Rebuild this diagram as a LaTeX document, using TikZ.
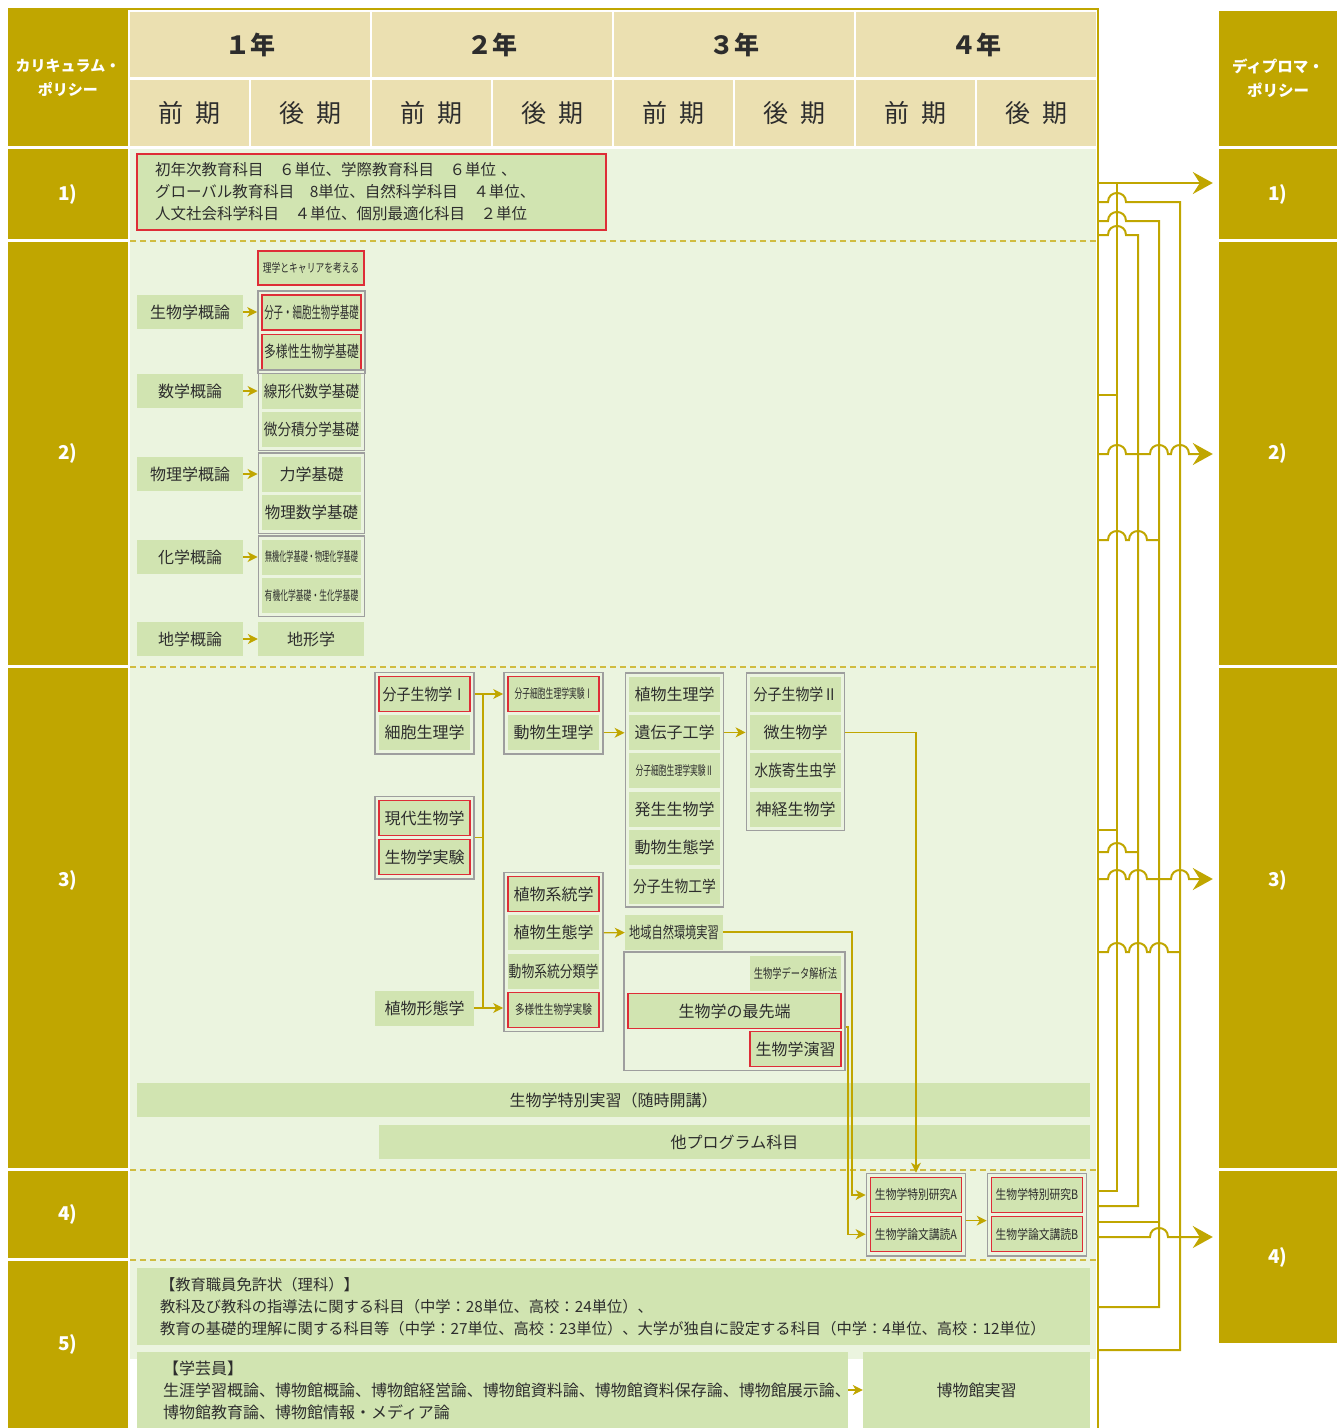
\documentclass[tikz,border=0pt]{standalone}
\usepackage{fontspec}
\usepackage{graphicx}
\setmainfont{Noto Sans CJK JP}
\usetikzlibrary{arrows.meta,positioning,fit,calc}
\definecolor{cpgold}{RGB}{192,166,0}
\definecolor{hdrtan}{RGB}{235,224,177}
\definecolor{bglight}{RGB}{235,244,223}
\definecolor{boxgreen}{RGB}{209,228,177}
\definecolor{reqred}{RGB}{222,45,55}
\definecolor{grpgray}{RGB}{158,158,158}
\definecolor{ink}{RGB}{45,45,45}
\newcommand{\sq}[2]{\scalebox{#1}[1]{#2}}
\newcommand{\fsz}[1]{\fontsize{#1}{#1}\selectfont}

\begin{document}
\begin{tikzpicture}[x=1pt, y=-1pt,
    node distance=3pt,
    cpcell/.style={rectangle, fill=cpgold, text=white, minimum width=120pt, inner sep=0pt, align=center, font=\bfseries\fontsize{19}{24}\selectfont},
    dpcell/.style={cpcell, minimum width=118pt},
    yr/.style={rectangle, fill=hdrtan, text=ink, minimum width=240pt, minimum height=65pt, inner sep=0pt, font=\bfseries\fsz{25}},
    sem/.style={rectangle, fill=hdrtan, text=ink, minimum width=119pt, minimum height=66pt, inner sep=0pt, font=\fsz{25}},
    course/.style={rectangle, fill=boxgreen, text=ink, minimum width=91pt, minimum height=35pt, inner sep=0pt, font=\fontsize{16}{18}\selectfont},
    intro/.style={course, minimum width=106pt, minimum height=34pt},
    req/.style={course, draw=reqred, line width=1.2pt},
    core/.style={course, minimum width=99pt},
    corereq/.style={req, minimum width=99pt},
    grp/.style={rectangle, draw=grpgray, line width=1.5pt, inner sep=3.5pt},
    sep/.style={draw=cpgold!75, line width=1.5pt, dash pattern=on 6pt off 4pt},
    link/.style={draw=cpgold, line width=1.2pt},
    arr/.style={link, -{Stealth[length=10pt, width=10pt, inset=3pt]}},
    bus/.style={draw=cpgold, line width=2pt},
    dparr/.style={bus, -{Stealth[length=20pt, width=22pt, inset=7pt]}, shorten >=6pt},
    jump/.style 2 args={insert path={-- ({#1-9},#2) .. controls ({#1-9},{#2-12}) and ({#1+9},{#2-12}) .. ({#1+9},#2)}}
]
    \useasboundingbox (0,0) rectangle (1341,1428);
    \fill[bglight] (130,149) rectangle (1096,1359);
    \draw[cpgold, line width=2pt] (8,9) -- (1098,9) -- (1098,1428);

    % curriculum policy column
    \node[cpcell, minimum height=136pt, font=\bfseries\fontsize{15}{24}\selectfont] (cp0) at (68,78) {カリキュラム・\\ポリシー};
    \node[cpcell, minimum height=90pt] (cp1) at (68,194) {1)};
    \node[cpcell, minimum height=423pt] (cp2) at (68,453.5) {2)};
    \node[cpcell, minimum height=500pt] (cp3) at (68,918) {};
    \node[cpcell, fill=none] (cp3t) at ([yshift=38pt]cp3.center) {3)};
    \node[cpcell, minimum height=87pt] (cp4) at (68,1214.5) {4)};
    \node[cpcell, minimum height=167pt] (cp5) at (68,1344.5) {5)};

    % years and terms
    \node[yr] (yr1) at (250,44.5) {１年};
    \node[yr] (yr2) at (492,44.5) {２年};
    \node[yr] (yr3) at (734,44.5) {３年};
    \node[yr] (yr4) at (976,44.5) {４年};
    \node[sem] (t11) at (189.5,113) {前\hspace{.45em}期};
    \node[sem] (t12) at (310.5,113) {後\hspace{.45em}期};
    \node[sem] (t21) at (431.5,113) {前\hspace{.45em}期};
    \node[sem] (t22) at (552.5,113) {後\hspace{.45em}期};
    \node[sem] (t31) at (673.5,113) {前\hspace{.45em}期};
    \node[sem] (t32) at (794.5,113) {後\hspace{.45em}期};
    \node[sem] (t41) at (915.5,113) {前\hspace{.45em}期};
    \node[sem] (t42) at (1036.5,113) {後\hspace{.45em}期};

    % diploma policy column
    \node[dpcell, minimum height=135pt, font=\bfseries\fontsize{15.5}{24}\selectfont] (dp0) at (1278,78.5) {ディプロマ・\\ポリシー};
    \node[dpcell, minimum height=90pt] (dp1) at (1278,194) {1)};
    \node[dpcell, minimum height=423pt] (dp2) at (1278,453.5) {2)};
    \node[dpcell, minimum height=500pt] (dp3) at (1278,918) {};
    \node[dpcell, fill=none] (dp3t) at ([yshift=38pt]dp3.center) {3)};
    \node[dpcell, minimum height=172pt] (dp4) at (1278,1257) {4)};

    \draw[sep] (130,241) -- (1096,241);
    \draw[sep] (130,667) -- (1096,667);
    \draw[sep] (130,1170) -- (1096,1170);
    \draw[sep] (130,1260) -- (1096,1260);

    % 1) general education
    \node[req, minimum width=469pt, minimum height=76pt, text width=433pt, align=left, font=\fontsize{15.5}{22}\selectfont] (general) at (371.5,192) {初年次教育科目　６単位、学際教育科目　６単位 、\\グローバル教育科目　8単位、自然科学科目　４単位、\\人文社会科学科目　４単位、個別最適化科目　２単位};

    % 2) basics
    \node[req, minimum width=106pt, minimum height=34pt, font=\fsz{12}] (career) at (311,268) {\sq{.73}{理学とキャリアを考える}};
    \node[intro] (bioint) at (190,312) {生物学概論};
    \node[intro] (mathint) at (190,391) {数学概論};
    \node[intro] (physint) at (190,474) {物理学概論};
    \node[intro] (chemint) at (190,557) {化学概論};
    \node[intro] (geoint) at (190,639) {地学概論};

    \node[corereq] (cellbio) at (311.5,312.5) {\sq{.59}{分子・細胞生物学基礎}};
    \node[corereq, below=of cellbio] (divbio) {\sq{.74}{多様性生物学基礎}};
    \node[grp, fit=(cellbio)(divbio)] (gbio) {};
    \node[core] (linalg) at (311.5,391) {\sq{.85}{線形代数学基礎}};
    \node[core, below=of linalg] (calculus) {\sq{.85}{微分積分学基礎}};
    \node[grp, fit=(linalg)(calculus)] (gmath) {};
    \node[core] (mech) at (311.5,474) {力学基礎};
    \node[core, below=of mech] (mathphys) {\sq{.97}{物理数学基礎}};
    \node[grp, fit=(mech)(mathphys)] (gphys) {};
    \node[core, font=\fsz{13}] (inorg) at (311.5,557) {\sq{.55}{無機化学基礎・物理化学基礎}};
    \node[core, font=\fsz{13}, below=of inorg] (organic) {\sq{.6}{有機化学基礎・生化学基礎}};
    \node[grp, fit=(inorg)(organic)] (gchem) {};
    \node[intro] (geomorph) at (311,639) {地形学};

    \draw[arr] (bioint) -- (gbio.west |- bioint);
    \draw[arr] (mathint) -- (gmath.west |- mathint);
    \draw[arr] (physint) -- (gphys.west |- physint);
    \draw[arr] (chemint) -- (gchem.west |- chemint);
    \draw[arr] (geoint) -- (geomorph);

    % 3) specialised courses
    \node[req] (molbio1) at (424.5,694) {\sq{.87}{分子生物学Ⅰ}};
    \node[course, below=of molbio1] (cellphys) {細胞生理学};
    \node[grp, fit=(molbio1)(cellphys)] (gA) {};
    \node[req] (modbio) at (424.5,818) {現代生物学};
    \node[req, below=of modbio] (biolab) {生物学実験};
    \node[grp, fit=(modbio)(biolab)] (gE) {};
    \node[core] (plantmorph) at (424.5,1008) {植物形態学};

    \node[req, font=\fsz{13}] (mcplab1) at (553.5,694) {\sq{.6}{分子細胞生理学実験Ⅰ}};
    \node[course, below=of mcplab1] (animphys) {動物生理学};
    \node[grp, fit=(mcplab1)(animphys)] (gB) {};
    \node[req] (plantsys) at (553.5,894) {植物系統学};
    \node[course, below=of plantsys] (plantecol) {植物生態学};
    \node[course, below=of plantecol] (animsys) {\sq{.8}{動物系統分類学}};
    \node[req, font=\fsz{13}, below=of animsys] (divlab) {\sq{.74}{多様性生物学実験}};
    \node[grp, fit=(plantsys)(divlab)] (gF) {};

    \node[course] (plantphys) at (674.5,694) {植物生理学};
    \node[course, below=of plantphys] (geneng) {遺伝子工学};
    \node[course, font=\fsz{13}, below=of geneng] (mcplab2) {\sq{.6}{分子細胞生理学実験Ⅱ}};
    \node[course, below=of mcplab2] (devbio) {発生生物学};
    \node[course, below=of devbio] (animecol) {動物生態学};
    \node[course, below=of animecol] (molbioeng) {\sq{.86}{分子生物工学}};
    \node[grp, fit=(plantphys)(molbioeng)] (gC) {};
    \node[course, minimum width=98pt] (fieldlab) at (674,932) {\sq{.7}{地域自然環境実習}};

    \node[course] (molbio2) at (795.5,694) {\sq{.87}{分子生物学Ⅱ}};
    \node[course, below=of molbio2] (microbio) {微生物学};
    \node[course, below=of microbio] (parasit) {\sq{.85}{水族寄生虫学}};
    \node[course, below=of parasit] (neurobio) {神経生物学};
    \node[grp, fit=(molbio2)(neurobio)] (gD) {};

    \node[course, font=\fsz{13}] (dataana) at (795.5,973) {\sq{.71}{生物学データ解析法}};
    \node[req, minimum width=213pt] (frontier) at (734.5,1011) {生物学の最先端};
    \node[req] (biopract) at (795.5,1049) {生物学演習};
    \node[grp, fit=(dataana)(frontier)(biopract)] (gG) {};

    \node[course, minimum width=953pt, minimum height=34pt] (special) at (613.5,1100) {生物学特別実習（随時開講）};
    \node[course, minimum width=711pt, minimum height=34pt] (otherprog) at (734.5,1142) {他プログラム科目};

    % 4) graduation research
    \node[req, font=\fsz{13}] (resA) at (916,1195) {\sq{.83}{生物学特別研究A}};
    \node[req, font=\fsz{13}, below=of resA] (readA) {\sq{.83}{生物学論文講読A}};
    \node[grp, fit=(resA)(readA)] (gH) {};
    \node[req, font=\fsz{13}] (resB) at (1037,1195) {\sq{.83}{生物学特別研究B}};
    \node[req, font=\fsz{13}, below=of resB] (readB) {\sq{.83}{生物学論文講読B}};
    \node[grp, fit=(resB)(readB)] (gI) {};

    % 5) licences
    \node[course, minimum width=953pt, minimum height=77pt, text width=907pt, align=left, font=\fontsize{15.3}{22}\selectfont] (teacher) at (613.5,1306.5) {【教育職員免許状（理科）】\\教科及び教科の指導法に関する科目（中学：28単位、高校：24単位）、\\教育の基礎的理解に関する科目等（中学：27単位、高校：23単位）、大学が独自に設定する科目（中学：4単位、高校：12単位）};
    \node[course, minimum width=711pt, minimum height=76pt, text width=659pt, align=left, font=\fontsize{16}{22}\selectfont] (curator) at (492.5,1390) {【学芸員】\\生涯学習概論、博物館概論、博物館経営論、博物館資料論、博物館資料保存論、博物館展示論、\\博物館教育論、博物館情報・メディア論};
    \node[course, minimum width=227pt, minimum height=76pt] (museumlab) at (976.5,1390) {博物館実習};

    % flow inside 3) and 4)
    \coordinate (busT) at (483,694);
    \coordinate (busB) at (483,1008);
    \coordinate (dropA) at (852,932);
    \coordinate (dropB) at (848,1027);
    \draw[link] (busT) -- (busB);
    \draw[link] (gE.east) -- (busT |- gE.east);
    \draw[arr] (gA.east |- molbio1) -- (gB.west |- molbio1);
    \draw[arr] (plantmorph) -- (gF.west |- plantmorph);
    \draw[arr] (gB.east |- animphys) -- (gC.west |- animphys);
    \draw[arr] (gC.east |- geneng) -- (gD.west |- geneng);
    \draw[arr] (gF.east |- plantecol) -- (fieldlab);
    \draw[arr] (gD.east |- microbio) -| (gH.north);
    \draw[arr] (fieldlab.east) -| (dropA |- resA) -- (gH.west |- resA);
    \draw[arr] (gG.east |- dropB) -| (dropB |- readA) -- (gH.west |- readA);
    \draw[arr] ([yshift=-6pt]gH.east) -- ([yshift=-6pt]gI.west);
    \draw[arr] (curator) -- (museumlab);

    % to the diploma policies
    \draw[bus] (1117,183) -- (1117,1191) -- (1098,1191);
    \draw[bus] (1098,235) [jump={1117}{235}] -- (1138,235) -- (1138,1206) -- (1098,1206);
    \draw[bus] (1098,221) [jump={1117}{221}] -- (1159,221) -- (1159,1307) -- (1098,1307);
    \draw[bus] (1098,202) [jump={1117}{202}] -- (1180,202) -- (1180,1350) -- (1098,1350);
    \draw[bus] (1098,395) -- (1117,395);
    \draw[bus] (1098,830) -- (1117,830);
    \draw[bus] (1098,852) [jump={1117}{852}] -- (1138,852);
    \draw[bus] (1098,540) [jump={1117}{540}] [jump={1138}{540}] -- (1159,540);
    \draw[bus] (1098,952) [jump={1117}{952}] [jump={1138}{952}] [jump={1159}{952}] -- (1180,952);
    \draw[bus] (1098,1222) -- (1159,1222);
    \draw[dparr] (1098,183) -- (dp1.west |- 0,183);
    \draw[dparr] (1098,454) [jump={1117}{454}] [jump={1159}{454}] [jump={1180}{454}] -- (dp2.west |- 0,454);
    \draw[dparr] (1098,879) [jump={1117}{879}] [jump={1138}{879}] [jump={1180}{879}] -- (dp3.west |- 0,879);
    \draw[dparr] (1098,1237) [jump={1159}{1237}] -- (dp4.west |- 0,1237);
\end{tikzpicture}
\end{document}
